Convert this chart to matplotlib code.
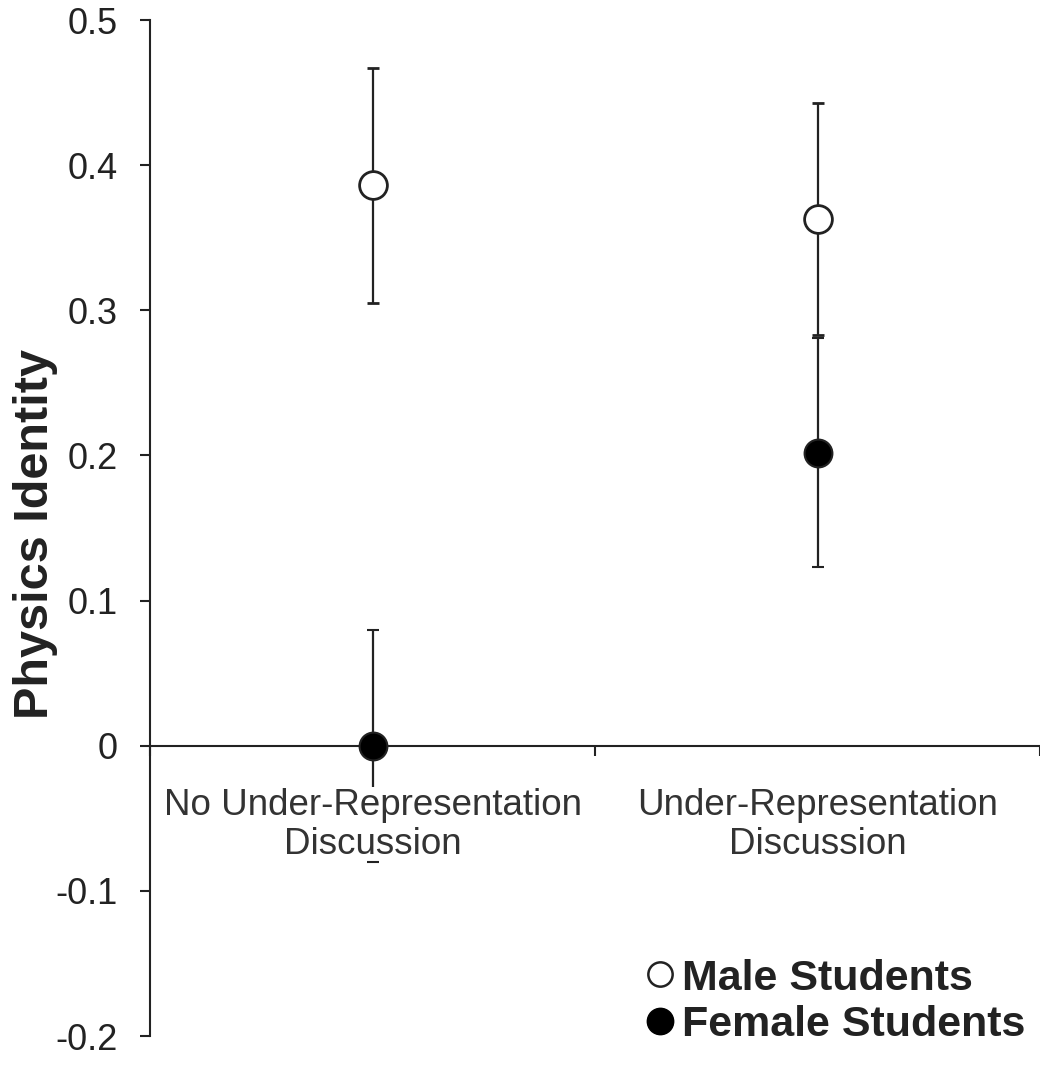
import matplotlib.pyplot as plt
from matplotlib.lines import Line2D

plt.rcParams['font.family'] = ['Liberation Sans', 'DejaVu Sans']

categories = ['No Under-Representation\nDiscussion', 'Under-Representation\nDiscussion']
male_mean = [0.386, 0.363]
male_err = [0.081, 0.080]
female_mean = [0.0, 0.202]
female_err = [0.080, 0.079]
yticks = [-0.2, -0.1, 0, 0.1, 0.2, 0.3, 0.4, 0.5]
ytick_labels = ['-0.2', '-0.1', '0', '0.1', '0.2', '0.3', '0.4', '0.5']

ink = '#222222'
xpos = [1, 2]

fig = plt.figure(figsize=(10.4, 10.7), dpi=100)
ax = fig.add_axes([150/1040, 34/1070, 1 - 150/1040, (1036 - 20)/1070])

fem = ax.errorbar(xpos, female_mean, yerr=female_err, fmt='o', color=ink, ecolor=ink,
                  elinewidth=1.6, capsize=4.5, capthick=1.6, ms=20, mfc='black',
                  mec=ink, mew=1.5, zorder=3, clip_on=False)
mal = ax.errorbar(xpos, male_mean, yerr=male_err, fmt='o', color=ink, ecolor=ink,
                  elinewidth=1.6, capsize=4.5, capthick=1.6, ms=20, mfc='white',
                  mec=ink, mew=2.0, zorder=3.5, clip_on=False)
# caps stay on top of the category text boxes
for cap in list(fem[1]) + list(mal[1]):
    cap.set_zorder(5)

ax.set_xlim(0.5, 2.5)
ax.set_ylim(-0.2, 0.5)
ax.set_yticks(yticks)
ax.set_yticklabels(ytick_labels)
ax.set_xticks([0.5, 1.5, 2.5])
ax.set_xticklabels([])

for side in ['top', 'right']:
    ax.spines[side].set_visible(False)
ax.spines['bottom'].set_position(('data', 0))
for side in ['bottom', 'left']:
    ax.spines[side].set_color(ink)
    ax.spines[side].set_linewidth(1.5)

ax.tick_params(axis='y', direction='out', length=7, width=1.5, color=ink,
               labelsize=26, labelcolor=ink, pad=16)
ax.tick_params(axis='x', direction='out', length=7, width=1.5, color=ink)

# white box hides the part of the error bar behind the category text
for x, label in zip(xpos, categories):
    ax.text(x, -0.029, label, ha='center', va='top', fontsize=26.5, color='#333333',
            linespacing=1.17, zorder=4,
            bbox=dict(facecolor='white', edgecolor='none', pad=0.3))

ax.set_ylabel('Physics Identity', fontsize=35, fontweight='bold', color=ink, va='center')
ax.yaxis.set_label_coords(-0.129, 0.494)

handles = [
    Line2D([], [], ls='none', marker='o', ms=17.5, mfc='white', mec=ink, mew=1.8),
    Line2D([], [], ls='none', marker='o', ms=19, mfc='black', mec='black'),
]
ax.legend(handles, ['Male Students', 'Female Students'], loc='lower left',
          bbox_to_anchor=(647/1040, 25/1070), bbox_transform=fig.transFigure, frameon=False,
          prop={'size': 31, 'weight': 'bold'}, labelcolor=ink, handlelength=0.6,
          handletextpad=0.22, labelspacing=0.15, borderpad=0.0, borderaxespad=0.0)

fig.savefig('out.png', dpi=100, facecolor='white')
